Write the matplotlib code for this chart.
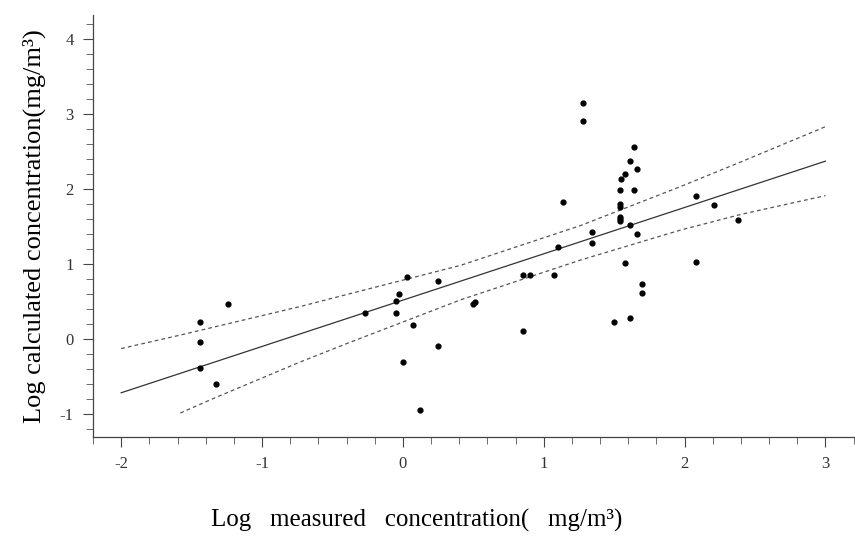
import numpy as np
import matplotlib
matplotlib.use('Agg')
import matplotlib.pyplot as plt
from matplotlib.ticker import MultipleLocator

plt.rcParams['font.family'] = ['Liberation Serif', 'DejaVu Serif']
plt.rcParams['axes.unicode_minus'] = False

# measured vs calculated (log) concentrations
meas = [-1.24, -1.44, -1.44, -1.44, -1.33,
        0.03, 0.25, -0.03, -0.05, -0.27, -0.05, 0.07, 0.25, 0.00, 0.12,
        1.14, 1.10, 0.85, 0.90, 1.07, 0.50, 0.51, 0.85,
        1.28, 1.28,
        1.64, 1.61, 1.66, 1.58, 1.55, 1.54, 1.64, 1.54, 1.54, 1.54, 1.54, 1.54,
        1.61, 1.66, 1.34, 1.34, 1.58, 1.70, 1.70, 1.61, 1.50,
        2.08, 2.21, 2.38, 2.08]
calc = [0.47, 0.22, -0.04, -0.39, -0.60,
        0.82, 0.77, 0.60, 0.50, 0.34, 0.34, 0.18, -0.09, -0.31, -0.95,
        1.82, 1.22, 0.85, 0.85, 0.85, 0.46, 0.49, 0.11,
        3.14, 2.91,
        2.56, 2.37, 2.27, 2.20, 2.13, 1.98, 1.99, 1.80, 1.76, 1.63, 1.60, 1.57,
        1.52, 1.40, 1.42, 1.28, 1.01, 0.73, 0.61, 0.28, 0.22,
        1.90, 1.78, 1.58, 1.03]

# fitted line and confidence band
fit_x = [-2.0, 3.0]
fit_y = [-0.72, 2.37]
upper_x = [-2.0, -1.58, -0.73, -0.38, 0.41, 1.26, 1.97, 2.40, 3.0]
upper_y = [-0.13, 0.05, 0.43, 0.60, 0.98, 1.51, 2.03, 2.36, 2.83]
lower_x = [-1.58, -1.35, -0.73, -0.38, 0.41, 1.26, 1.97, 2.40, 3.0]
lower_y = [-0.99, -0.80, -0.31, -0.05, 0.52, 1.05, 1.45, 1.66, 1.91]

fig = plt.figure(figsize=(8.55, 5.38), dpi=100)
ax = fig.add_axes([93 / 855, 101 / 538, 762 / 855, 422 / 538])

ax.plot(fit_x, fit_y, color='#333333', lw=0.9)
ax.plot(upper_x, upper_y, color='#555555', lw=0.9, ls=(0, (3, 2.5)))
ax.plot(lower_x, lower_y, color='#555555', lw=0.9, ls=(0, (3, 2.5)))
ax.scatter(meas, calc, s=12, color='black', zorder=3)

ax.set_xlim(-2.2, 3.21)
ax.set_ylim(-1.31, 4.32)
ax.xaxis.set_major_locator(MultipleLocator(1))
ax.xaxis.set_minor_locator(MultipleLocator(0.2))
ax.yaxis.set_major_locator(MultipleLocator(1))
ax.yaxis.set_minor_locator(MultipleLocator(0.2))
ax.spines['top'].set_visible(False)
ax.spines['right'].set_visible(False)
for s in ['left', 'bottom']:
    ax.spines[s].set_color('#444444')
    ax.spines[s].set_linewidth(0.9)
ax.tick_params(which='major', length=7, width=0.8, color='#444444',
               labelsize=12, labelcolor='#333333')
ax.tick_params(which='minor', length=5, width=0.6, color='#555555')
ax.tick_params(axis='y', which='major', pad=7)
ax.tick_params(axis='x', which='major', pad=7)

ax.set_ylabel('Log calculated concentration(mg/m³)', fontsize=19, labelpad=10)
fig.text(417 / 855, 18 / 538, 'Log   measured   concentration(   mg/m³)',
         fontsize=18, ha='center', va='center')

fig.savefig('out.png', dpi=100)
